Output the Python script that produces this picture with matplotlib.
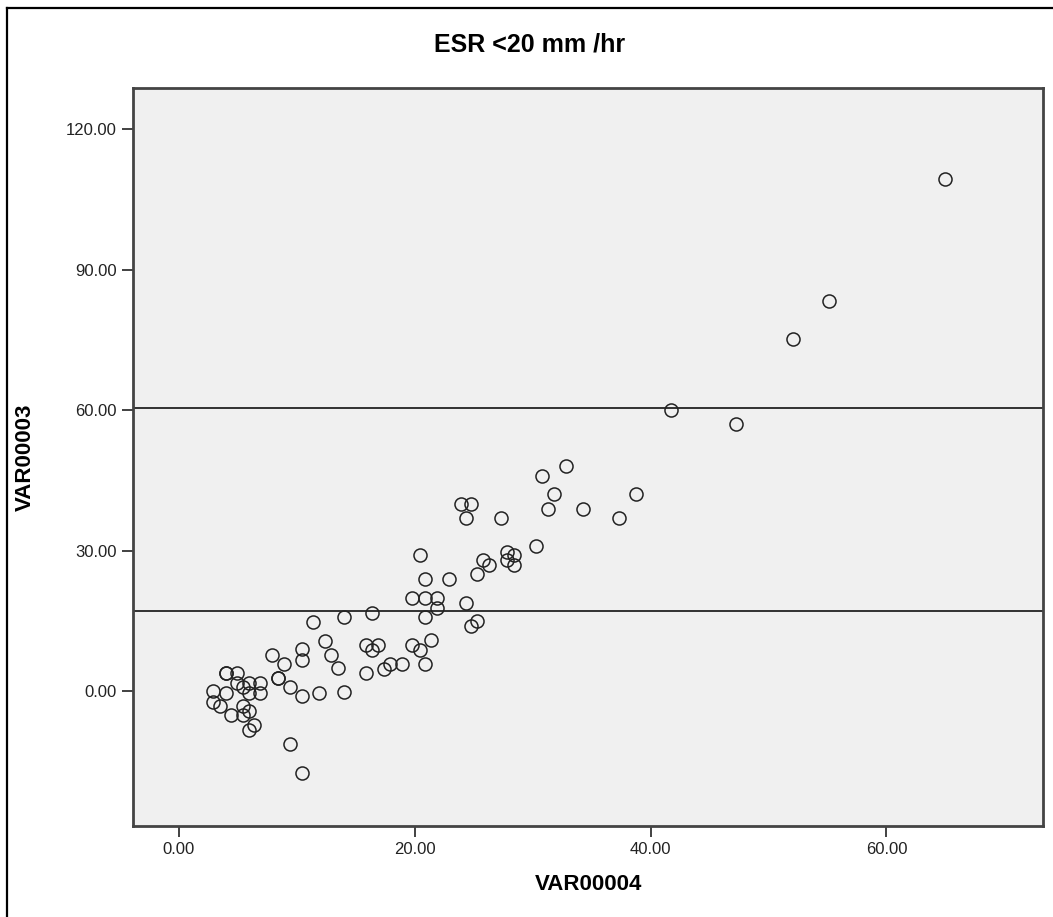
import numpy as np
import matplotlib
matplotlib.use("Agg")
import matplotlib.pyplot as plt
from matplotlib.lines import Line2D

plt.rcParams['font.family'] = ['Liberation Sans', 'DejaVu Sans']

# values
var4 = [65.0, 55.1, 52.1, 41.7, 47.2, 32.8, 30.8, 31.8, 31.3, 34.3, 37.3, 38.8,
        23.9, 24.8, 24.3, 27.3, 30.3, 27.8, 28.4, 27.8, 28.4, 25.8, 26.3, 25.3,
        22.9, 20.9, 20.4, 19.8, 20.9, 21.9, 21.9, 24.3, 20.9, 25.3, 24.8, 14.0,
        16.4, 15.9, 16.4, 16.9, 19.8, 20.4, 21.4, 20.9, 18.9, 17.9, 17.4, 15.9,
        14.0, 13.5, 11.4, 12.4, 12.9, 11.9, 10.4, 10.4, 10.4, 7.9, 8.9, 8.4,
        8.4, 9.4, 9.4, 10.4, 4.0, 4.0, 4.9, 4.9, 5.4, 5.9, 6.9, 5.9,
        6.9, 4.0, 2.9, 2.9, 3.5, 4.4, 5.4, 5.9, 5.4, 6.4, 5.9]
var3 = [109.3, 83.3, 75.2, 60.1, 57.0, 48.0, 46.0, 42.0, 39.0, 39.0, 37.0, 42.0,
        39.9, 39.9, 37.0, 37.0, 31.0, 29.8, 29.0, 28.0, 26.9, 28.0, 26.9, 25.0,
        23.9, 23.9, 29.0, 19.8, 19.8, 19.8, 17.8, 18.9, 15.9, 15.0, 13.9, 15.9,
        16.8, 9.8, 8.8, 9.8, 9.8, 8.8, 10.9, 5.9, 5.8, 5.8, 4.8, 3.8,
        -0.1, 4.9, 14.8, 10.7, 7.8, -0.3, 8.9, 6.7, -1.1, 7.8, 5.8, 2.9,
        2.9, 0.8, -11.2, -17.4, 3.8, 3.8, 3.8, 1.8, 0.9, 1.8, 1.8, -0.3,
        -0.3, -0.3, 0.0, -2.3, -3.1, -5.1, -3.1, -4.2, -5.1, -7.3, -8.3]
ref_lines = [60.4, 17.1]
xticks = [0, 20, 40, 60]
yticks = [0, 30, 60, 90, 120]

fig = plt.figure(figsize=(10.53, 9.17), dpi=100)
ax = fig.add_axes([0.1263, 0.0992, 0.8645, 0.8048])
ax.set_facecolor('#f0f0f0')

ax.plot(var4, var3, 'o', markersize=9.4, markerfacecolor='none',
        markeredgecolor='#222222', markeredgewidth=1.1)
for v in ref_lines:
    ax.axhline(v, color='#222222', lw=1.3)

ax.set_xlim(-3.9, 73.3)
ax.set_ylim(-28.8, 128.8)
ax.set_xticks(xticks)
ax.set_yticks(yticks)
ax.set_xticklabels(['%.2f' % t for t in xticks])
ax.set_yticklabels(['%.2f' % t for t in yticks])
ax.tick_params(labelsize=12, length=8, width=1.3, color='#333333', labelcolor='#222222')
for s in ax.spines.values():
    s.set_color('#444444')
    s.set_linewidth(2)

ax.set_xlabel('VAR00004', fontsize=16, fontweight='bold', labelpad=12)
ax.set_ylabel('VAR00003', fontsize=16, fontweight='bold', labelpad=22)
fig.text(0.503, 0.951, 'ESR <20 mm /hr', fontsize=18, fontweight='bold',
         ha='center', va='center')

# outer frame (left and top edges only visible)
fig.add_artist(Line2D([0.0066, 0.0066], [0, 0.9913], color='black', lw=1.6,
                      transform=fig.transFigure))
fig.add_artist(Line2D([0.0066, 1], [0.9913, 0.9913], color='black', lw=1.6,
                      transform=fig.transFigure))

fig.savefig('out.png', dpi=100)
